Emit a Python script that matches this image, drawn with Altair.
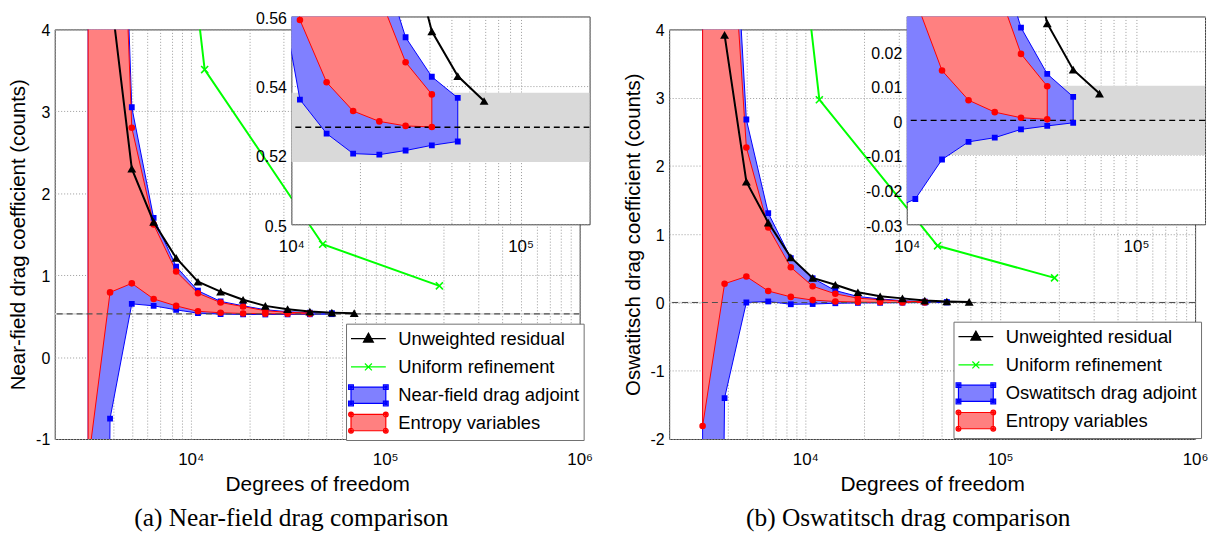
import altair as alt
import pandas as pd

# ---------------- data ----------------
dof_adj = [2970, 3850, 4980, 6450, 8420, 10900, 14250, 18600, 24200, 31500, 41000, 53200]
dof_ent = [2970, 3850, 4980, 6450, 8420, 10900, 14250, 18600, 24200, 31500, 41000]
dof_res = [3850, 4980, 6450, 8420, 10900, 14250, 18600, 24200, 31500, 41000, 53200, 69300]
dof_uni = [2950, 11800, 47700, 190000]

# (a) near-field drag
nf_adj_lo = [-30.0, -0.75, 0.65, 0.626, 0.577, 0.536, 0.5262, 0.5204, 0.5201, 0.5213, 0.5228, 0.5239]
nf_adj_hi = [25.0, 10.5, 3.05, 1.70, 1.105, 0.81, 0.68, 0.626, 0.578, 0.554, 0.5426, 0.5365]
nf_ent_lo = [-1.3, 0.79, 0.90, 0.71, 0.625, 0.559, 0.541, 0.5327, 0.5297, 0.5284, 0.5281]
nf_ent_hi = [20.0, 9.8, 2.80, 1.62, 1.044, 0.78, 0.666, 0.617, 0.566, 0.5468, 0.5375]
nf_res = [4.5, 2.30, 1.65, 1.21, 0.92, 0.80, 0.70, 0.625, 0.585, 0.5557, 0.5428, 0.5356]
nf_uni = [15.8, 3.51, 1.378, 0.87]
nf_ref = [0.528]
nf_band = [0.518, 0.538]

# (b) Oswatitsch drag
os_adj_lo = [-30.0, -1.40, 0.0, 0.015, -0.026, -0.0227, -0.0113, -0.0062, -0.005, -0.0026, -0.0016, -0.0007]
os_adj_hi = [15.0, 8.3, 2.68, 1.31, 0.65, 0.355, 0.175, 0.088, 0.0515, 0.0268, 0.0134, 0.0068]
os_ent_lo = [-1.81, 0.275, 0.38, 0.168, 0.082, 0.035, 0.0144, 0.00583, 0.00238, 0.00076, 0.0003]
os_ent_hi = [15.0, 7.2, 2.27, 1.10, 0.515, 0.238, 0.127, 0.063, 0.0405, 0.0192, 0.00985]
os_res = [3.92, 1.77, 1.17, 0.66, 0.36, 0.26, 0.15, 0.09, 0.06, 0.028, 0.01464, 0.00775]
os_uni = [18.0, 2.97, 0.83, 0.36]
os_ref = [0.0]
os_band = [-0.01, 0.01]

main_xdomain = [2000, 1000000]
main_xticks = [2000, 3000, 4000, 5000, 6000, 7000, 8000, 9000,
               10000, 20000, 30000, 40000, 50000, 60000, 70000, 80000, 90000,
               100000, 200000, 300000, 400000, 500000, 600000, 700000, 800000, 900000, 1000000]
inset_xdomain = [10000, 200000]
inset_xticks = [10000, 20000, 30000, 40000, 50000, 60000, 70000, 80000, 90000, 100000, 200000]

nf_ydomain = [-1, 4]
nf_yticks = [-1, 0, 1, 2, 3, 4]
nf_inset_ydomain = [0.5, 0.56]
nf_inset_yticks = [0.5, 0.52, 0.54, 0.56]
os_ydomain = [-2, 4]
os_yticks = [-2, -1, 0, 1, 2, 3, 4]
os_inset_ydomain = [-0.03, 0.03]
os_inset_yticks = [-0.03, -0.02, -0.01, 0, 0.01, 0.02]

legend_a = ["Unweighted residual", "Uniform refinement", "Near-field drag adjoint", "Entropy variables"]
legend_b = ["Unweighted residual", "Uniform refinement", "Oswatitsch drag adjoint", "Entropy variables"]
ytitle_a = "Near-field drag coefficient (counts)"
ytitle_b = "Oswatitsch drag coefficient (counts)"
xtitle = "Degrees of freedom"
caption_a = "(a) Near-field drag comparison"
caption_b = "(b) Oswatitsch drag comparison"

# ---------------- styling ----------------
FONT = "Liberation Sans"
GRIDC = "#9a9a9a"
FRAME = "#404040"
BLUE_FILL, BLUE = "#8080ff", "#0000ff"
RED_FILL, RED = "#ff8080", "#ff0000"
GREEN = "#00ff00"
BAND = "#d9d9d9"

SUP = ("datum.value == 10000 ? '10\u2074' : datum.value == 100000 ? '10\u2075' : "
       "datum.value == 1000000 ? '10\u2076' : ''")
NUM = "datum.value < 0 ? '-' + toString(abs(datum.value)) : toString(datum.value)"


def x_axis(values, title, pad):
    kw = dict(values=values, labelExpr=SUP, grid=True, gridColor=GRIDC, gridDash=[1, 2],
              gridWidth=1, ticks=False, domain=False, labelFont=FONT, labelFontSize=17,
              labelColor="black", labelPadding=pad, labelOverlap=False, labelFlush=False)
    if title:
        kw.update(title=title, titleFont=FONT, titleFontSize=21, titleFontWeight="normal",
                  titleColor="black", titlePadding=6)
    else:
        kw["title"] = None
    return alt.Axis(**kw)


def y_axis(values, title, loff):
    kw = dict(values=values, labelExpr=NUM, grid=True, gridColor=GRIDC, gridDash=[1, 2],
              gridWidth=1, ticks=False, domain=False, labelFont=FONT, labelFontSize=16,
              labelColor="black", labelPadding=5, labelOffset=loff, labelOverlap=False,
              labelFlush=False)
    if title:
        kw.update(title=title, titleFont=FONT, titleFontSize=20.5, titleFontWeight="normal",
                  titleColor="black", titlePadding=7)
    else:
        kw["title"] = None
    return alt.Axis(**kw)


# legend glyphs (custom symbol paths); EY keeps every glyph the same height
RX, RY, MK = 1.75, 0.82, 0.24
EY = RY + MK


def corner_squares(cx, cy):
    out = ""
    for h in (MK, 0.1):
        out += f"M{cx - h},{cy - h}h{2 * h}v{2 * h}h{-2 * h}Z"
    return out


def corner_circles(cx, cy):
    out = ""
    for r in (MK, 0.1):
        out += f"M{cx - r},{cy}a{r},{r} 0 1,0 {2 * r},0a{r},{r} 0 1,0 {-2 * r},0Z"
    return out


PAD_Y = f"M0,{-EY}L0,{-EY}M0,{EY}L0,{EY}"
P_RES = "M-1.75,0H1.75M0,-0.55L0.5,0.35H-0.5Z" + PAD_Y
P_UNI = "M-1.75,0H1.75M-0.35,-0.35L0.35,0.35M-0.35,0.35L0.35,-0.35" + PAD_Y
P_ADJ = f"M{-RX},{-RY}H{RX}V{RY}H{-RX}Z" + "".join(
    corner_squares(sx * RX, sy * RY) for sx in (-1, 1) for sy in (-1, 1))
P_ENT = f"M{-RX},{-RY}H{RX}V{RY}H{-RX}Z" + "".join(
    corner_circles(sx * RX, sy * RY) for sx in (-1, 1) for sy in (-1, 1))


def layers(X, Y, adj_lo, adj_hi, ent_lo, ent_hi, res, uni, ref, band, xdom, main):
    band_df = pd.DataFrame({"dof": [xdom[0]], "dof2": [xdom[1]], "y": [band[0]], "y2": [band[1]]})
    ref_df = pd.DataFrame({"y": ref})
    adj_df = pd.DataFrame({"dof": dof_adj, "y": adj_lo, "y2": adj_hi})
    ent_df = pd.DataFrame({"dof": dof_ent, "y": ent_lo, "y2": ent_hi})
    adj_lo_df = pd.DataFrame({"dof": dof_adj, "y": adj_lo})
    adj_hi_df = pd.DataFrame({"dof": dof_adj, "y": adj_hi})
    ent_lo_df = pd.DataFrame({"dof": dof_ent, "y": ent_lo})
    ent_hi_df = pd.DataFrame({"dof": dof_ent, "y": ent_hi})
    res_df = pd.DataFrame({"dof": dof_res, "y": res})
    uni_df = pd.DataFrame({"dof": dof_uni, "y": uni})

    out = [
        alt.Chart(band_df).mark_rect(color=BAND, clip=True).encode(x=X, x2="dof2:Q", y=Y, y2="y2:Q"),
        alt.Chart(adj_df).mark_area(fill=BLUE_FILL, stroke=BLUE, strokeWidth=1, opacity=1,
                                    clip=True).encode(x=X, y=Y, y2="y2:Q"),
        alt.Chart(ent_df).mark_area(fill=RED_FILL, stroke=RED, strokeWidth=1, opacity=1,
                                    clip=True).encode(x=X, y=Y, y2="y2:Q"),
        alt.Chart(ref_df).mark_rule(color="#505050" if main else "black", strokeDash=[6, 4],
                                    strokeWidth=1.2 if main else 1.5, clip=True).encode(y=Y),
    ]
    for d in (adj_lo_df, adj_hi_df):
        out.append(alt.Chart(d).mark_point(shape="square", filled=True, size=34, color=BLUE,
                                           opacity=1, clip=True).encode(x=X, y=Y))
    for d in (ent_lo_df, ent_hi_df):
        out.append(alt.Chart(d).mark_point(shape="circle", filled=True, size=44, color=RED,
                                           opacity=1, clip=True).encode(x=X, y=Y))
    out += [
        alt.Chart(res_df).mark_line(color="black", strokeWidth=2, clip=True).encode(x=X, y=Y),
        alt.Chart(res_df).mark_point(shape="triangle-up", filled=True, size=80, color="black",
                                     opacity=1, clip=True).encode(x=X, y=Y),
        alt.Chart(uni_df).mark_line(color=GREEN, strokeWidth=2, clip=True).encode(x=X, y=Y),
        alt.Chart(uni_df).mark_point(shape="M-1,-1L1,1M-1,1L1,-1", filled=False, size=50,
                                     color=GREEN, strokeWidth=1.6, opacity=1,
                                     clip=True).encode(x=X, y=Y),
    ]
    return out


def main_panel(adj_lo, adj_hi, ent_lo, ent_hi, res, uni, ref, band, ydom, yticks, ytitle,
               labels, caption, cap_dx, width, leg_xy):
    X = alt.X("dof:Q", scale=alt.Scale(type="log", domain=main_xdomain), axis=x_axis(main_xticks, xtitle, 13))
    Y = alt.Y("y:Q", scale=alt.Scale(domain=ydom, nice=False, zero=False), axis=y_axis(yticks, ytitle, 1))
    ls = layers(X, Y, adj_lo, adj_hi, ent_lo, ent_hi, res, uni, ref, band, main_xdomain, True)
    leg = alt.Legend(title=None, orient="none", legendX=leg_xy[0], legendY=leg_xy[1], direction="vertical",
                     symbolSize=400, symbolStrokeWidth=1.2, symbolOffset=7.5, symbolOpacity=1,
                     labelOffset=19, labelFont=FONT, labelFontSize=18.5, labelColor="black",
                     labelLimit=400, rowPadding=1.5, padding=4, strokeColor="#707070",
                     fillColor="white", cornerRadius=0)
    leg_df = pd.DataFrame({"dof": [1, 1, 1, 1], "y": [0, 0, 0, 0], "series": labels})
    ls.append(
        alt.Chart(leg_df).mark_point(opacity=1, clip=True).encode(
            x=X, y=Y,
            shape=alt.Shape("series:N", scale=alt.Scale(domain=labels, range=[P_RES, P_UNI, P_ADJ, P_ENT]), legend=leg),
            fill=alt.Fill("series:N", scale=alt.Scale(domain=labels, range=["black", "transparent", BLUE_FILL, RED_FILL]), legend=leg),
            stroke=alt.Stroke("series:N", scale=alt.Scale(domain=labels, range=["black", GREEN, BLUE, RED]), legend=leg),
        )
    )
    title = alt.TitleParams(text=caption, orient="bottom", anchor="middle", dx=cap_dx, offset=11,
                            font="Liberation Serif", fontSize=25.5, fontWeight="normal", color="black")
    return alt.layer(*ls).properties(width=width, height=412, title=title,
                                     view=alt.ViewBackground(fill="white", stroke=FRAME, strokeWidth=1))


def inset_panel(adj_lo, adj_hi, ent_lo, ent_hi, res, uni, ref, band, ydom, yticks):
    X = alt.X("dof:Q", scale=alt.Scale(type="log", domain=inset_xdomain), axis=x_axis(inset_xticks, None, 14))
    Y = alt.Y("y:Q", scale=alt.Scale(domain=ydom, nice=False, zero=False), axis=y_axis(yticks, None, 2))
    ls = layers(X, Y, adj_lo, adj_hi, ent_lo, ent_hi, res, uni, ref, band, inset_xdomain, False)
    return alt.layer(*ls).properties(width=300, height=209,
                                     view=alt.ViewBackground(fill="white", stroke=FRAME, strokeWidth=1))


def blank(w, h):
    return alt.Chart(pd.DataFrame({"a": [0]})).mark_point(opacity=0).properties(
        width=w, height=h, view=alt.ViewBackground(strokeOpacity=0, fillOpacity=0))


main_a = main_panel(nf_adj_lo, nf_adj_hi, nf_ent_lo, nf_ent_hi, nf_res, nf_uni, nf_ref, nf_band,
                    nf_ydomain, nf_yticks, ytitle_a, legend_a, caption_a, -26, 528, (293, 309))
main_b = main_panel(os_adj_lo, os_adj_hi, os_ent_lo, os_ent_hi, os_res, os_uni, os_ref, os_band,
                    os_ydomain, os_yticks, ytitle_b, legend_b, caption_b, -24, 529, (286, 307))
inset_a = inset_panel(nf_adj_lo, nf_adj_hi, nf_ent_lo, nf_ent_hi, nf_res, nf_uni, nf_ref, nf_band,
                      nf_inset_ydomain, nf_inset_yticks)
inset_b = inset_panel(os_adj_lo, os_adj_hi, os_ent_lo, os_ent_hi, os_res, os_uni, os_ref, os_band,
                      os_inset_ydomain, os_inset_yticks)

col_a = alt.vconcat(blank(1, 13), main_a, spacing=0, bounds="flush")
col_b = alt.vconcat(blank(1, 13), main_b, spacing=0, bounds="flush")

chart = alt.hconcat(
    col_a, blank(238, 1), inset_a, blank(80, 1), col_b, blank(239, 1), inset_b,
    spacing=0, bounds="flush",
).resolve_scale(
    shape="independent", fill="independent", stroke="independent"
).properties(
    padding={"left": 0, "top": 0, "right": 0, "bottom": 0}
).configure(font=FONT)

chart.save("out.html", embed_options={"renderer": "svg", "actions": False})
